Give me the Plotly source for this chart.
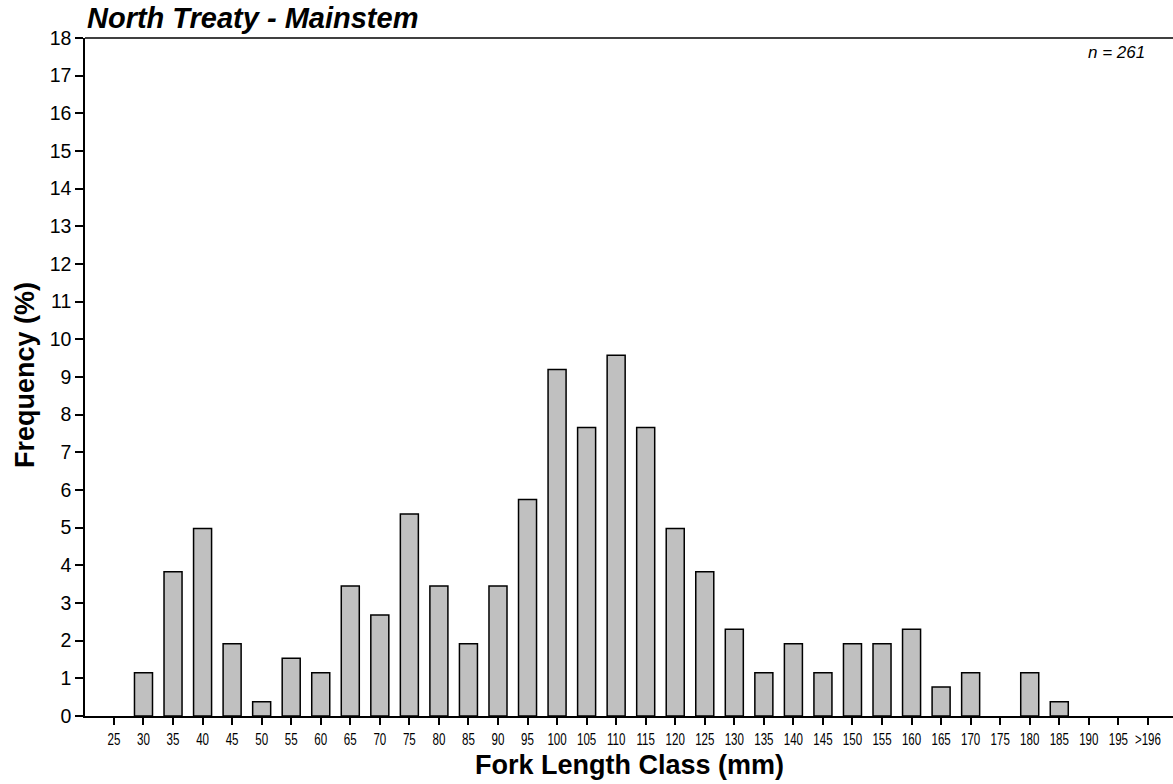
import plotly.graph_objects as go

categories = ["25", "30", "35", "40", "45", "50", "55", "60", "65", "70", "75", "80",
              "85", "90", "95", "100", "105", "110", "115", "120", "125", "130", "135",
              "140", "145", "150", "155", "160", "165", "170", "175", "180", "185",
              "190", "195", ">196"]
frequency = [0, 1.15, 3.83, 4.98, 1.92, 0.38, 1.53, 1.15, 3.45, 2.68, 5.36, 3.45,
             1.92, 3.45, 5.75, 9.20, 7.66, 9.58, 7.66, 4.98, 3.83, 2.30, 1.15,
             1.92, 1.15, 1.92, 1.92, 2.30, 0.77, 1.15, 0, 1.15, 0.38,
             0, 0, 0]
y_ticks = list(range(0, 19))

# zero classes draw no bar
bar_y = [v if v > 0 else None for v in frequency]

fig = go.Figure()
fig.add_trace(go.Bar(
    x=list(range(len(categories))), y=bar_y,
    width=0.61,
    marker=dict(color="#c0c0c0", line=dict(color="black", width=1.5)),
))

fig.update_layout(
    width=1173, height=784,
    margin=dict(l=85, r=0, t=38, b=68),
    plot_bgcolor="white", paper_bgcolor="white",
    showlegend=False,
    font=dict(family="Liberation Sans, Arial", color="black"),
    xaxis=dict(
        range=[-0.98, 35.85], automargin=False,
        tickmode="array", tickvals=list(range(len(categories))), ticktext=categories,
        tickangle=0,
        ticks="outside", ticklen=7, tickwidth=1.5, tickcolor="black",
        showline=True, linecolor="black", linewidth=1.5,
        showgrid=False, zeroline=False,
        tickfont=dict(size=17),
    ),
    yaxis=dict(
        range=[0, 18], automargin=False,
        tickmode="array", tickvals=y_ticks,
        ticks="outside", ticklen=8, tickwidth=1.5, tickcolor="black",
        showline=True, linecolor="black", linewidth=1.5,
        showgrid=False, zeroline=False,
        tickfont=dict(size=19.5),
    ),
    shapes=[dict(type="line", xref="paper", yref="paper", x0=0, x1=1, y0=1, y1=1,
                 line=dict(color="black", width=1.5))],
    annotations=[
        dict(text="<b><i>North Treaty - Mainstem</i></b>", xref="paper", yref="paper",
             x=0, y=1, xanchor="left", yanchor="bottom", yshift=2, showarrow=False,
             font=dict(size=29)),
        dict(text="<i>n = 261</i>", xref="paper", yref="paper",
             x=1, y=0.979, xanchor="right", yanchor="middle", xshift=-26, showarrow=False,
             font=dict(size=17)),
        dict(text="<b>Fork Length Class (mm)</b>", xref="paper", yref="paper",
             x=0.5, y=0, xanchor="center", yanchor="middle", yshift=-49, showarrow=False,
             font=dict(size=27)),
        dict(text="<b>Frequency (%)</b>", xref="paper", yref="paper", textangle=-90,
             x=0, y=0.5, xanchor="center", yanchor="middle", xshift=-60, yshift=2,
             showarrow=False, font=dict(size=27)),
    ],
)

post = """
(function(){
  function squeeze(){
    document.querySelectorAll('.xtick text').forEach(function(t){
      if(!t.getAttribute('lengthAdjust')){
        var w = t.getComputedTextLength();
        t.setAttribute('textLength', (w*0.68).toFixed(1));
        t.setAttribute('lengthAdjust', 'spacingAndGlyphs');
      }
    });
  }
  var gd = document.getElementById('{plot_id}');
  squeeze();
  if (gd && gd.on) { gd.on('plotly_afterplot', squeeze); }
  setTimeout(squeeze, 50);
})();
"""

fig.write_html("out.html", post_script=post)
